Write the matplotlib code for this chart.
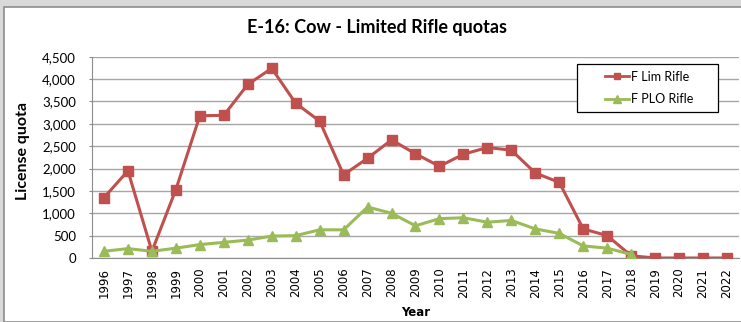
import matplotlib
matplotlib.use("Agg")
import matplotlib.pyplot as plt
from matplotlib.ticker import FuncFormatter, MultipleLocator
from matplotlib.patches import Rectangle
from matplotlib.lines import Line2D

years = [str(y) for y in range(1996, 2023)]
f_lim_rifle = [1350, 1950, 150, 1530, 3180, 3190, 3880, 4240, 3460, 3060,
               1860, 2230, 2640, 2330, 2050, 2320, 2470, 2410, 1900, 1690,
               650, 500, 50, 0, 0, 0, 0]
f_plo_rifle = [150, 210, 150, 220, 300, 350, 400, 490, 500, 630,
               630, 1140, 1000, 720, 880, 900, 800, 840, 650, 550,
               270, 220, 80]

RED = "#c0504d"
GREEN = "#9bbb59"

W, H = 741, 322
fig = plt.figure(figsize=(W / 100, H / 100), dpi=100)
fig.patch.set_facecolor("#d9d9d9")


def fx(px):
    return px / W


def fy(py):
    return 1 - py / H


# white chart area with a thin frame
fig.patches.append(Rectangle((fx(3.5), 0), 1, fy(6.5), transform=fig.transFigure,
                             facecolor="white", edgecolor="#8c8c8c", linewidth=1.2, zorder=-5))

ax = fig.add_axes([fx(92), fy(258), fx(739 - 92), (258 - 56.7) / H])
ax.set_facecolor("none")

x_lim = list(range(len(f_lim_rifle)))
x_plo = list(range(len(f_plo_rifle)))
ax.plot(x_lim, f_lim_rifle, color=RED, linewidth=2.2, marker="s",
        markersize=7, label="F Lim Rifle", zorder=3)
ax.plot(x_plo, f_plo_rifle, color=GREEN, linewidth=2.2, marker="^",
        markersize=7.5, label="F PLO Rifle", zorder=3)

ax.set_xlim(-0.5, len(years) - 0.5)
ax.set_ylim(0, 4500)
ax.yaxis.set_major_locator(MultipleLocator(500))
ax.yaxis.set_major_formatter(FuncFormatter(lambda v, p: f"{int(v):,}"))
ax.set_xticks(range(len(years)))
ax.set_xticklabels(years, rotation=90, fontsize=8.5, family="DejaVu Sans")
for lab in ax.get_yticklabels():
    lab.set_family("Lato")
    lab.set_fontsize(9.5)

ax.grid(axis="y", color="#a6a6a6", linewidth=1)
ax.set_axisbelow(True)
for s in ["top", "right"]:
    ax.spines[s].set_visible(False)
ax.spines["left"].set_color("#8c8c8c")
ax.spines["bottom"].set_color("#8c8c8c")
ax.tick_params(axis="y", length=2.5, color="#8c8c8c", pad=9)
ax.tick_params(axis="x", length=0, pad=7)

fig.text(fx(23), fy(151), "License quota", rotation=90, ha="center", va="center",
         fontsize=11.5, fontweight="bold", family="Lato")
fig.text(fx(416), fy(312), "Year", ha="center", va="center",
         fontsize=8.5, fontweight="bold", family="DejaVu Sans")
fig.text(fx(377), fy(27), "E-16: Cow - Limited Rifle quotas", ha="center", va="center",
         fontsize=13, fontweight="bold", family="Lato")

# legend box with entries placed to the right of a wide left margin
fig.patches.append(Rectangle((fx(577), fy(112)), fx(718 - 577), (112 - 64) / H,
                             transform=fig.transFigure, facecolor="white",
                             edgecolor="black", linewidth=0.9, zorder=4))
handles = [Line2D([], [], color=RED, linewidth=2, marker="s", markersize=5),
           Line2D([], [], color=GREEN, linewidth=2, marker="^", markersize=5.5)]
leg = fig.legend(handles, ["F Lim Rifle", "F PLO Rifle"], loc="upper left",
                 bbox_to_anchor=(fx(605), fy(70.5)), frameon=False,
                 prop={"family": "Lato", "size": 9}, handlelength=1.95,
                 borderpad=0, labelspacing=0.85, handletextpad=0.1, borderaxespad=0)
leg.set_zorder(6)

fig.savefig("out.png", dpi=100, facecolor=fig.get_facecolor())
